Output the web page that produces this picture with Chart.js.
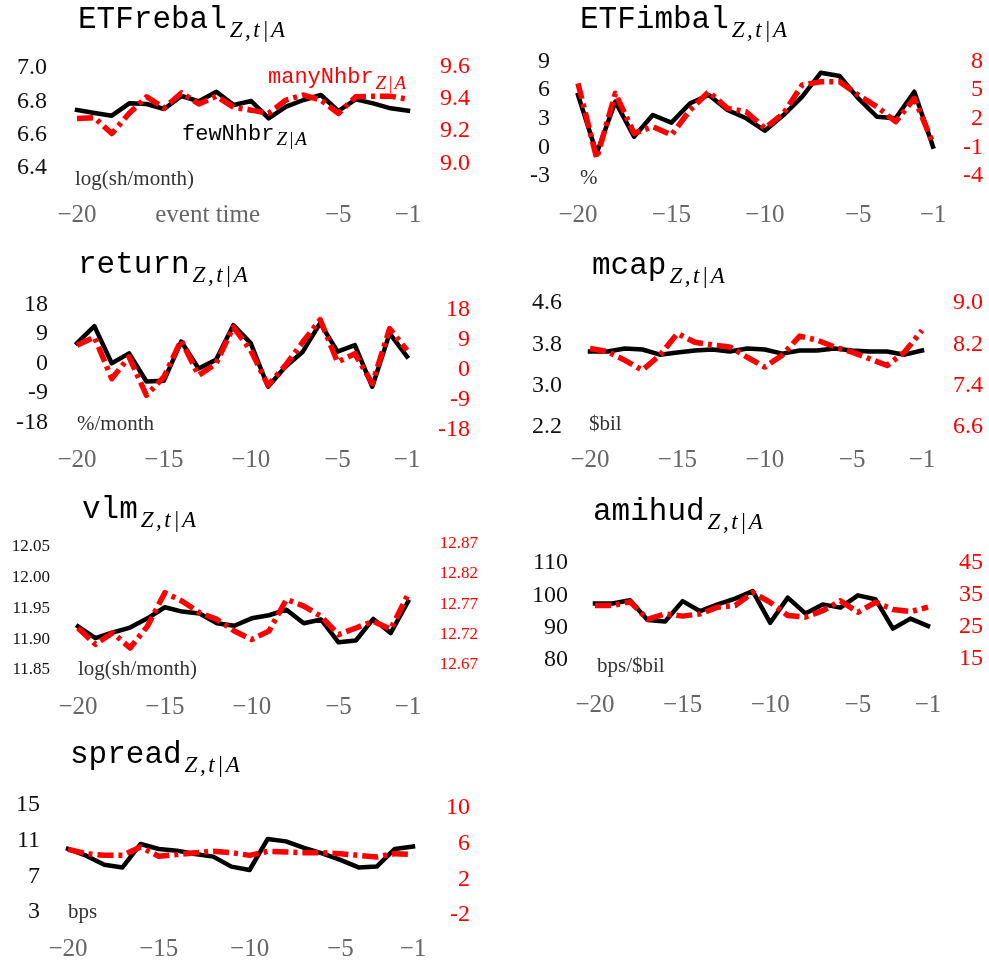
<!DOCTYPE html>
<html><head><meta charset="utf-8">
<script src="https://cdn.jsdelivr.net/npm/chart.js@4.4.0/dist/chart.umd.min.js"></script>
<style>
html,body{margin:0;padding:0;background:#fff;}
body{width:989px;height:962px;position:relative;overflow:hidden;}
canvas{position:absolute;}
</style></head><body>
<canvas id="c1"></canvas><canvas id="c2"></canvas><canvas id="c3"></canvas><canvas id="c4"></canvas>
<canvas id="c5"></canvas><canvas id="c6"></canvas><canvas id="c7"></canvas>
<script>
// ---------- data ----------
const eventTime = [-20,-19,-18,-17,-16,-15,-14,-13,-12,-11,-10,-9,-8,-7,-6,-5,-4,-3,-2,-1];
const xTicks = [-20,-15,-10,-5,-1];
const xTicksFirst = [-20,-12.5,-5,-1];

const rebalFew  = [6.748,6.730,6.714,6.788,6.784,6.754,6.832,6.800,6.858,6.778,6.802,6.698,6.768,6.808,6.838,6.742,6.812,6.788,6.758,6.744];
const rebalMany = [9.279,9.283,9.185,9.311,9.413,9.343,9.438,9.368,9.417,9.347,9.330,9.310,9.393,9.424,9.393,9.310,9.413,9.417,9.417,9.397];
const rebalLeftTicks = [7.0,6.8,6.6,6.4];
const rebalRightTicks = [9.6,9.4,9.2,9.0];

const imbalFew  = [5.49,-0.62,4.79,1.12,3.39,2.59,4.62,5.49,3.92,3.05,1.75,3.39,5.31,7.83,7.48,5.14,3.21,3.05,5.83,0.07];
const imbalMany = [5.71,-2.15,4.67,0.47,1.17,0.30,2.92,4.83,3.09,2.74,1.00,2.57,5.54,5.88,5.88,4.49,3.26,1.69,4.14,-0.57];
const imbalLeftTicks = [9,6,3,0,-3];
const imbalRightTicks = [8,5,2,-1,-4];

const returnFew  = [6.2,11.4,0.1,3.1,-5.5,-5.3,6.7,-1.5,1.1,11.7,6.2,-7.1,-1.0,3.6,12.3,3.6,5.6,-7.1,9.2,2.1];
const returnMany = [7.4,9.9,-2.6,3.9,-7.6,-2.1,8.9,-1.6,1.9,12.9,5.9,-4.6,1.4,8.4,15.1,2.4,4.9,-4.1,12.4,5.9];
const returnLeftTicks = [18,9,0,-9,-18];
const returnRightTicks = [18,9,0,-9,-18];

const mcapFew  = [3.66,3.66,3.72,3.70,3.60,3.64,3.68,3.70,3.66,3.72,3.70,3.62,3.68,3.68,3.72,3.68,3.66,3.66,3.60,3.68];
const mcapMany = [8.12,8.06,7.89,7.70,7.99,8.41,8.24,8.19,8.15,7.95,7.76,7.99,8.36,8.28,8.15,8.05,7.92,7.79,8.05,8.47];
const mcapLeftTicks = [4.6,3.8,3.0,2.2];
const mcapRightTicks = [9.0,8.2,7.4,6.6];

const vlmFew  = [11.921,11.902,11.911,11.919,11.934,11.952,11.945,11.942,11.926,11.922,11.934,11.939,11.948,11.926,11.932,11.895,11.898,11.933,11.910,11.961];
const vlmMany = [12.731,12.704,12.723,12.698,12.734,12.789,12.775,12.756,12.745,12.726,12.712,12.726,12.778,12.767,12.750,12.720,12.731,12.742,12.729,12.786];
const vlmLeftTicks = [12.05,12.00,11.95,11.90,11.85];
const vlmRightTicks = [12.87,12.82,12.77,12.72,12.67];

const amihudFew  = [97.5,97.5,98.5,92.4,91.9,98.2,95.1,97.2,99.0,101.3,91.5,99.3,94.4,97.2,96.2,100.0,98.8,89.7,92.8,90.5];
const amihudMany = [31.7,31.7,32.9,27.4,29.1,28.4,29.1,31.2,31.7,35.8,32.7,28.6,28.1,30.1,33.2,29.6,32.7,30.5,29.8,31.2];
const amihudLeftTicks = [110,100,90,80];
const amihudRightTicks = [45,35,25,15];

const spreadFew  = [10.07,9.32,8.31,8.0,10.63,10.07,9.88,9.51,9.21,8.09,7.71,11.19,10.92,10.18,9.58,8.84,8.0,8.09,10.07,10.33];
const spreadMany = [5.36,4.88,4.69,4.69,5.63,4.58,4.77,4.99,5.14,4.99,4.69,5.14,5.07,4.99,4.99,4.88,4.69,4.51,4.88,4.77];
const spreadLeftTicks = [15,11,7,3];
const spreadRightTicks = [10,6,2,-2];

// ---------- styling / layout ----------
const SERIF = '"Liberation Serif", "Times New Roman", serif';
const MONO = '"Liberation Mono", "Courier New", monospace';
const RED = '#ff0000';

function titleParts(name){
  return [{text:name, font:'31px '+MONO, color:'#000', gap:3},
          {text:'Z,t|A', font:'italic 23px '+SERIF, color:'#000', dy:9, ls:'2.5px'}];
}
function unitPart(t){ return [{text:t, font:'21px '+SERIF, color:'#333'}]; }

const panels = [
  {id:'c1', box:[0,0,470,240], area:{L:77,R:408,T:50,B:192}, leftLabelRight:47, xLabelY:215,
   few:rebalFew, many:rebalMany, lt:rebalLeftTicks, rt:rebalRightTicks, dec:1, fs:24,
   lcal:[7.0,68,6.4,168], rcal:[9.6,66.7,9.0,163.3], xt:xTicksFirst,
   texts:[{x:78,y:28,parts:titleParts('ETFrebal')},
          {x:75,y:185,parts:unitPart('log(sh/month)')},
          {x:268,y:83,parts:[{text:'manyNhbr',font:'22px '+MONO,color:RED,gap:2},{text:'Z|A',font:'italic 19px '+SERIF,color:RED,dy:6,ls:'1.5px'}]},
          {x:182,y:140,parts:[{text:'fewNhbr',font:'22px '+MONO,color:'#000',gap:2},{text:'Z|A',font:'italic 19px '+SERIF,color:'#000',dy:5,ls:'1.5px'}]}]},
  {id:'c2', box:[500,0,483,240], area:{L:578,R:933,T:50,B:190}, leftLabelRight:550, xLabelY:215,
   few:imbalFew, many:imbalMany, lt:imbalLeftTicks, rt:imbalRightTicks, dec:0, fs:24,
   lcal:[9,61.5,-3,176], rcal:[8,61.5,-4,176], xt:xTicks,
   texts:[{x:580,y:28,parts:titleParts('ETFimbal')},{x:580,y:184,parts:unitPart('%')}]},
  {id:'c3', box:[0,245,470,240], area:{L:77,R:407,T:292,B:440}, leftLabelRight:48, xLabelY:460,
   few:returnFew, many:returnMany, lt:returnLeftTicks, rt:returnRightTicks, dec:0, fs:24,
   lcal:[18,304.5,-18,422.5], rcal:[18,310,-18,430], xt:xTicks,
   texts:[{x:78,y:273,parts:titleParts('return')},{x:77,y:430,parts:unitPart('%/month')}]},
  {id:'c4', box:[500,245,483,240], area:{L:590,R:922,T:290,B:440}, leftLabelRight:562, xLabelY:460,
   few:mcapFew, many:mcapMany, lt:mcapLeftTicks, rt:mcapRightTicks, dec:1, fs:24,
   lcal:[4.6,303,2.2,427], rcal:[9.0,303,6.6,427], xt:xTicks,
   texts:[{x:592,y:274,parts:titleParts('mcap')},{x:589,y:430,parts:unitPart('$bil')}]},
  {id:'c5', box:[0,490,478,240], area:{L:78,R:408,T:535,B:685}, leftLabelRight:50, xLabelY:707,
   few:vlmFew, many:vlmMany, lt:vlmLeftTicks, rt:vlmRightTicks, dec:2, fs:17,
   lcal:[12.05,547,11.85,670], rcal:[12.87,543.5,12.67,665], xt:xTicks,
   texts:[{x:82,y:518,parts:titleParts('vlm')},{x:78,y:675,parts:unitPart('log(sh/month)')}]},
  {id:'c6', box:[500,490,483,240], area:{L:595,R:928,T:540,B:685}, leftLabelRight:568, xLabelY:705,
   few:amihudFew, many:amihudMany, lt:amihudLeftTicks, rt:amihudRightTicks, dec:0, fs:24,
   lcal:[110,563,80,660], rcal:[45,563,15,659], xt:xTicks,
   texts:[{x:593,y:520,parts:titleParts('amihud')},{x:597,y:672,parts:unitPart('bps/$bil')}]},
  {id:'c7', box:[0,730,470,245], area:{L:68,R:413,T:780,B:928}, leftLabelRight:40, xLabelY:949,
   few:spreadFew, many:spreadMany, lt:spreadLeftTicks, rt:spreadRightTicks, dec:0, fs:24,
   lcal:[15,805,3,912], rcal:[10,808,-2,915], xt:xTicks,
   texts:[{x:70,y:763,parts:titleParts('spread')},{x:68,y:918,parts:unitPart('bps')}]}
];

function calRange(cal, top, bottom){
  const [v1,p1,v2,p2] = cal; const k = (v2-v1)/(p2-p1);
  return {max: v1 + (top-p1)*k, min: v1 + (bottom-p1)*k};
}

const textPlugin = {
  id:'pageText',
  afterDraw(chart, args, opts){
    const ctx = chart.ctx; const [bx,by] = opts.origin;
    for (const item of opts.items){
      let x = item.x - bx;
      for (const p of item.parts){
        ctx.save();
        ctx.font = p.font; ctx.fillStyle = p.color;
        if ('letterSpacing' in ctx) ctx.letterSpacing = p.ls || '0px';
        ctx.textAlign = 'left'; ctx.textBaseline = 'alphabetic';
        ctx.fillText(p.text, x, item.y - by + (p.dy||0));
        x += ctx.measureText(p.text).width + (p.gap||0);
        ctx.restore();
      }
    }
  }
};

for (const P of panels){
  const cv = document.getElementById(P.id);
  const [bx,by,bw,bh] = P.box; const A = P.area;
  cv.width = bw; cv.height = bh;
  cv.style.left = bx+'px'; cv.style.top = by+'px';
  cv.style.width = bw+'px'; cv.style.height = bh+'px';
  const lw = A.L - bx, rw = bx + bw - A.R, xh = by + bh - A.B;
  const lr = calRange(P.lcal, A.T, A.B), rr = calRange(P.rcal, A.T, A.B);
  const xFont = 25;
  const yFit = (w) => (s) => { s.width = w; s.paddingTop = 8; s.paddingBottom = 8; };
  new Chart(cv, {
    type:'line',
    data:{datasets:[
      {label:'manyNhbr', data:eventTime.map((t,i)=>({x:t,y:P.many[i]})), yAxisID:'yR',
       borderColor:RED, borderWidth:5.5, borderDash:[16,5,4,5], borderCapStyle:'butt', borderJoinStyle:'round',
       pointRadius:0, tension:0, order:0, clip:false},
      {label:'fewNhbr', data:eventTime.map((t,i)=>({x:t,y:P.few[i]})), yAxisID:'yL',
       borderColor:'#000', borderWidth:4.5, borderCapStyle:'square', borderJoinStyle:'round',
       pointRadius:0, tension:0, order:1, clip:false}
    ]},
    options:{
      responsive:false, animation:false, devicePixelRatio:1,
      layout:{padding:{top:A.T-by, left:0, right:0, bottom:0}},
      plugins:{legend:{display:false}, tooltip:{enabled:false}, title:{display:false},
               pageText:{origin:[bx,by], items:P.texts}},
      scales:{
        x:{type:'linear', min:-20, max:-1,
           grid:{display:false, drawTicks:false}, border:{display:false},
           afterBuildTicks:s=>{ s.ticks = P.xt.map(v=>({value:v})); },
           afterFit:s=>{ s.height = xh; },
           ticks:{autoSkip:false, maxRotation:0, color:'#666',
                  padding: P.xLabelY - A.B - xFont*1.2/2,
                  font:{family:SERIF, size:xFont},
                  callback:v=> v===-12.5 ? 'event time' : '\u2212'+Math.abs(v)}},
        yL:{type:'linear', position:'left', min:lr.min, max:lr.max,
           grid:{display:false, drawTicks:false}, border:{display:false},
           afterBuildTicks:s=>{ s.ticks = P.lt.map(v=>({value:v})); },
           afterFit:yFit(lw),
           ticks:{autoSkip:false, color:'#111', padding: A.L - P.leftLabelRight,
                  font:{family:SERIF, size:P.fs}, callback:v=>Number(v).toFixed(P.dec)}},
        yR:{type:'linear', position:'right', min:rr.min, max:rr.max,
           grid:{display:false, drawTicks:false}, border:{display:false},
           afterBuildTicks:s=>{ s.ticks = P.rt.map(v=>({value:v})); },
           afterFit:yFit(rw),
           ticks:{autoSkip:false, color:RED, crossAlign:'far', padding:4,
                  font:{family:SERIF, size:P.fs}, callback:v=>Number(v).toFixed(P.dec)}}
      }
    },
    plugins:[textPlugin]
  });
}
</script>
</body></html>
